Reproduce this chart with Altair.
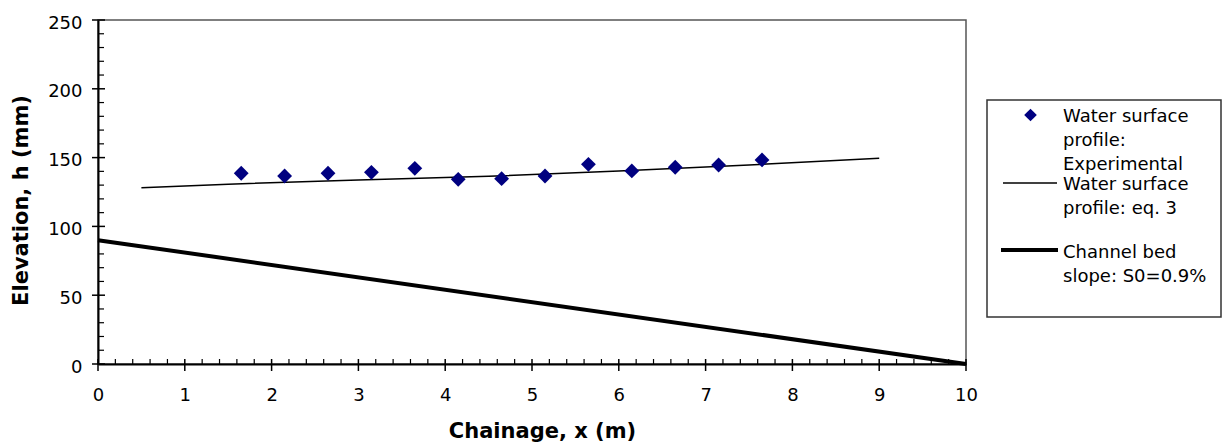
import altair as alt
import pandas as pd

# ---- data ----
exp_x = [1.65, 2.15, 2.65, 3.15, 3.65, 4.15, 4.65, 5.15, 5.65, 6.15, 6.65, 7.15, 7.65]
exp_h = [138.6, 136.6, 138.6, 139.3, 142.2, 134.2, 134.7, 136.6, 145.1, 140.3, 143.0, 144.6, 148.3]

eq_x = [0.5, 1.5, 3.0, 4.5, 6.0, 7.5, 9.0]
eq_h = [128.1, 130.7, 133.8, 136.4, 140.3, 144.6, 149.5]

bed_x = [0, 10]
bed_h = [90, 0]

x_major = [0, 1, 2, 3, 4, 5, 6, 7, 8, 9, 10]
x_minor = [i / 5 for i in range(51) if i % 5]
y_major = [0, 50, 100, 150, 200, 250]
y_minor = [v for v in range(0, 251, 10) if v % 50]

legend_labels = [
    "Water surface\nprofile:\nExperimental",
    "Water surface\nprofile: eq. 3",
    "Channel bed\nslope: S0=0.9%",
]

W, H = 868, 344
FONT = "DejaVu Sans"

xs = alt.Scale(domain=[0, 10], nice=False, zero=False)
ys = alt.Scale(domain=[0, 250], nice=False, zero=False)

xaxis = alt.Axis(
    values=x_major, format="d", ticks=False, grid=False, labelFont=FONT, labelFontSize=18,
    labelColor="black", labelPadding=22, domainColor="black", domainWidth=2,
    title="Chainage, x (m)", titleFont=FONT, titleFontSize=21, titleFontWeight="bold",
    titleColor="black", titleX=444, titleY=73, titleBaseline="alphabetic",
    labelFlush=False,
)
yaxis = alt.Axis(
    values=y_major, format="d", ticks=False, grid=False, labelFont=FONT, labelFontSize=18,
    labelColor="black", labelPadding=16, labelOffset=3, domainColor="black", domainWidth=2,
    title="Elevation, h (mm)", titleFont=FONT, titleFontSize=21, titleFontWeight="bold",
    titleColor="black", titleX=-77, titleY=180, titleBaseline="middle", titleAngle=-90,
    labelFlush=False,
)

bed_df = pd.DataFrame({"x": bed_x, "h": bed_h})
eq_df = pd.DataFrame({"x": eq_x, "h": eq_h})
exp_df = pd.DataFrame({"x": exp_x, "h": exp_h})

bed = alt.Chart(bed_df).mark_line(color="black", strokeWidth=4).encode(
    x=alt.X("x:Q", scale=xs, axis=xaxis), y=alt.Y("h:Q", scale=ys, axis=yaxis)
)
eq = alt.Chart(eq_df).mark_line(color="black", strokeWidth=1.5).encode(
    x=alt.X("x:Q", scale=xs), y=alt.Y("h:Q", scale=ys)
)
pts = alt.Chart(exp_df).mark_point(shape="diamond", filled=True, color="#000080", size=220, opacity=1).encode(
    x=alt.X("x:Q", scale=xs), y=alt.Y("h:Q", scale=ys)
)

# axis ticks
xmaj = alt.Chart(pd.DataFrame({"v": x_major})).mark_rule(color="black", strokeWidth=1.5).encode(
    x=alt.X("v:Q", scale=xs), y=alt.value(H - 5), y2=alt.value(H + 7)
)
xmin = alt.Chart(pd.DataFrame({"v": x_minor})).mark_rule(color="black", strokeWidth=1.2).encode(
    x=alt.X("v:Q", scale=xs), y=alt.value(H - 5), y2=alt.value(H)
)
ymaj = alt.Chart(pd.DataFrame({"v": y_major})).mark_rule(color="black", strokeWidth=1.5).encode(
    y=alt.Y("v:Q", scale=ys), x=alt.value(-6), x2=alt.value(7)
)
ymin = alt.Chart(pd.DataFrame({"v": y_minor})).mark_rule(color="black", strokeWidth=1.2).encode(
    y=alt.Y("v:Q", scale=ys), x=alt.value(0), x2=alt.value(6)
)

# legend (drawn manually)
one = pd.DataFrame({"a": [0]})
box = alt.Chart(one).mark_rect(fill="white", stroke="#333333", strokeWidth=1.5).encode(
    x=alt.value(889), x2=alt.value(1123), y=alt.value(80), y2=alt.value(297)
)
leg_pt = alt.Chart(one).mark_point(shape="diamond", filled=True, color="#000080", size=160, opacity=1).encode(
    x=alt.value(932.5), y=alt.value(95)
)
leg_thin = alt.Chart(one).mark_rule(color="black", strokeWidth=1.5).encode(
    x=alt.value(905), x2=alt.value(959), y=alt.value(163)
)
leg_thick = alt.Chart(one).mark_rule(color="black", strokeWidth=4).encode(
    x=alt.value(903), x2=alt.value(960), y=alt.value(230)
)

def leg_text(label, y):
    return alt.Chart(one).mark_text(
        align="left", baseline="alphabetic", font=FONT, fontSize=18, color="black",
        lineBreak="\n", lineHeight=24,
    ).encode(x=alt.value(965), y=alt.value(y), text=alt.value(label))

t1 = leg_text(legend_labels[0], 102)
t2 = leg_text(legend_labels[1], 170)
t3 = leg_text(legend_labels[2], 238)

chart = alt.layer(
    bed, eq, pts, xmaj, xmin, ymaj, ymin, box, leg_pt, leg_thin, leg_thick, t1, t2, t3
).properties(
    width=W, height=H,
    autosize=alt.AutoSizeParams(type="none"),
    padding={"left": 98, "top": 20, "right": 257, "bottom": 80},
    background="white",
).configure_view(stroke="#555555", strokeWidth=1.5)

chart.save("out.html", embed_options={"renderer": "svg", "actions": False})
